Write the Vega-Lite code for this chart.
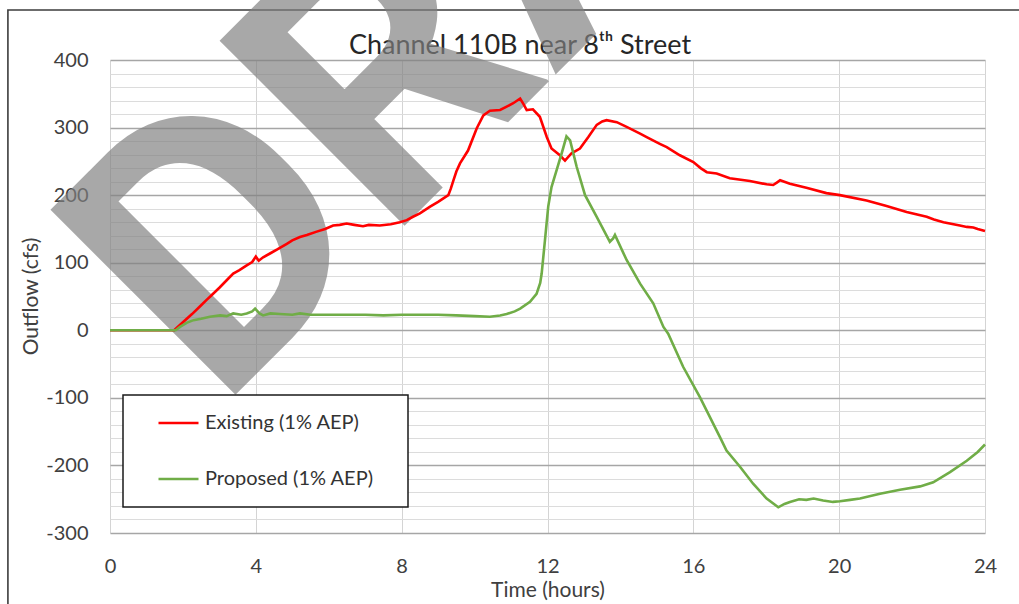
{
  "$schema": "https://vega.github.io/schema/vega-lite/v6.json",
  "width": 875,
  "height": 473,
  "autosize": {"type": "none"},
  "padding": {"left": 110, "top": 60, "right": 34, "bottom": 71},
  "background": "white",
  "config": {
    "view": {"stroke": null},
    "font": "Lato",
    "legend": {"strokeWidth": 1.5}
  },
  "resolve": {"axis": {"x": "independent", "y": "independent"}},
  "layer": [
    {
      "data": {"values": [{}]},
      "mark": {"type": "rect", "filled": false, "stroke": "#3c3c3c", "strokeWidth": 1.6, "clip": false},
      "encoding": {
        "x": {"datum": -2.8, "type": "quantitative", "axis": null, "scale": {"domain": [0, 24], "nice": false, "zero": false}},
        "x2": {"datum": 26.5},
        "y": {"datum": 474, "type": "quantitative", "axis": null, "scale": {"domain": [-300, 400], "nice": false}},
        "y2": {"datum": -450}
      }
    },
    {
      "data": {"values": [{}]},
      "mark": {"type": "text", "text": "DRAFT", "font": "Roboto", "fontWeight": "bold", "fontSize": 368, "angle": -45, "align": "left", "baseline": "alphabetic", "color": "#808080", "opacity": 0.68},
      "encoding": {
        "x": {"datum": 2.99, "type": "quantitative", "scale": {"domain": [0, 24], "nice": false, "zero": false},
          "axis": {"orient": "top", "labels": false, "ticks": false, "domain": false, "grid": false,
            "title": "Channel 110B near 8ᵗʰ Street", "titleFont": "Lato", "titleFontSize": 27, "titleFontWeight": "normal",
            "titleColor": "#262626", "titleX": 409.5, "titleY": -7, "titleAlign": "center", "titleBaseline": "alphabetic"}},
        "y": {"datum": -119.8, "type": "quantitative", "axis": null, "scale": {"domain": [-300, 400], "nice": false}}
      }
    },
    {
      "data": {"values": [
        {"s":"Existing (1% AEP)","t":0,"q":0},{"s":"Existing (1% AEP)","t":1,"q":0},{"s":"Existing (1% AEP)","t":1.76,"q":0},
        {"s":"Existing (1% AEP)","t":2.0,"q":12},{"s":"Existing (1% AEP)","t":2.25,"q":24},{"s":"Existing (1% AEP)","t":2.5,"q":37},
        {"s":"Existing (1% AEP)","t":2.65,"q":45},{"s":"Existing (1% AEP)","t":2.75,"q":50},{"s":"Existing (1% AEP)","t":3.0,"q":63},
        {"s":"Existing (1% AEP)","t":3.2,"q":74},{"s":"Existing (1% AEP)","t":3.38,"q":84},{"s":"Existing (1% AEP)","t":3.55,"q":89},
        {"s":"Existing (1% AEP)","t":3.75,"q":96},{"s":"Existing (1% AEP)","t":3.9,"q":101},{"s":"Existing (1% AEP)","t":4.0,"q":109},
        {"s":"Existing (1% AEP)","t":4.08,"q":103},{"s":"Existing (1% AEP)","t":4.2,"q":108},{"s":"Existing (1% AEP)","t":4.4,"q":114},
        {"s":"Existing (1% AEP)","t":4.6,"q":120},{"s":"Existing (1% AEP)","t":4.85,"q":128},{"s":"Existing (1% AEP)","t":5.0,"q":133},
        {"s":"Existing (1% AEP)","t":5.21,"q":138},{"s":"Existing (1% AEP)","t":5.4,"q":141},{"s":"Existing (1% AEP)","t":5.67,"q":146},
        {"s":"Existing (1% AEP)","t":5.9,"q":150},{"s":"Existing (1% AEP)","t":6.12,"q":155},{"s":"Existing (1% AEP)","t":6.3,"q":156},
        {"s":"Existing (1% AEP)","t":6.49,"q":158},{"s":"Existing (1% AEP)","t":6.7,"q":156},{"s":"Existing (1% AEP)","t":6.94,"q":154},
        {"s":"Existing (1% AEP)","t":7.1,"q":156},{"s":"Existing (1% AEP)","t":7.4,"q":155},{"s":"Existing (1% AEP)","t":7.7,"q":157},
        {"s":"Existing (1% AEP)","t":7.95,"q":160},{"s":"Existing (1% AEP)","t":8.14,"q":163},{"s":"Existing (1% AEP)","t":8.31,"q":168},
        {"s":"Existing (1% AEP)","t":8.5,"q":173},{"s":"Existing (1% AEP)","t":8.78,"q":183},{"s":"Existing (1% AEP)","t":9.0,"q":190},
        {"s":"Existing (1% AEP)","t":9.28,"q":200},{"s":"Existing (1% AEP)","t":9.35,"q":210},{"s":"Existing (1% AEP)","t":9.42,"q":222},
        {"s":"Existing (1% AEP)","t":9.5,"q":235},{"s":"Existing (1% AEP)","t":9.6,"q":247},{"s":"Existing (1% AEP)","t":9.82,"q":266},
        {"s":"Existing (1% AEP)","t":10.06,"q":299},{"s":"Existing (1% AEP)","t":10.24,"q":318},{"s":"Existing (1% AEP)","t":10.42,"q":325},
        {"s":"Existing (1% AEP)","t":10.7,"q":326},{"s":"Existing (1% AEP)","t":10.88,"q":331},{"s":"Existing (1% AEP)","t":11.06,"q":336},
        {"s":"Existing (1% AEP)","t":11.25,"q":343},{"s":"Existing (1% AEP)","t":11.35,"q":334},{"s":"Existing (1% AEP)","t":11.43,"q":326},
        {"s":"Existing (1% AEP)","t":11.6,"q":327},{"s":"Existing (1% AEP)","t":11.79,"q":316},{"s":"Existing (1% AEP)","t":11.98,"q":286},
        {"s":"Existing (1% AEP)","t":12.11,"q":269},{"s":"Existing (1% AEP)","t":12.34,"q":259},{"s":"Existing (1% AEP)","t":12.48,"q":251},
        {"s":"Existing (1% AEP)","t":12.66,"q":262},{"s":"Existing (1% AEP)","t":12.89,"q":269},{"s":"Existing (1% AEP)","t":13.12,"q":286},
        {"s":"Existing (1% AEP)","t":13.35,"q":304},{"s":"Existing (1% AEP)","t":13.5,"q":309},{"s":"Existing (1% AEP)","t":13.62,"q":311},
        {"s":"Existing (1% AEP)","t":13.9,"q":308},{"s":"Existing (1% AEP)","t":14.17,"q":301},{"s":"Existing (1% AEP)","t":14.54,"q":291},
        {"s":"Existing (1% AEP)","t":14.72,"q":286},{"s":"Existing (1% AEP)","t":15.08,"q":276},{"s":"Existing (1% AEP)","t":15.27,"q":271},
        {"s":"Existing (1% AEP)","t":15.63,"q":259},{"s":"Existing (1% AEP)","t":16.0,"q":249},{"s":"Existing (1% AEP)","t":16.2,"q":240},
        {"s":"Existing (1% AEP)","t":16.37,"q":234},{"s":"Existing (1% AEP)","t":16.64,"q":232},{"s":"Existing (1% AEP)","t":17.0,"q":225},
        {"s":"Existing (1% AEP)","t":17.55,"q":221},{"s":"Existing (1% AEP)","t":18.01,"q":216},{"s":"Existing (1% AEP)","t":18.19,"q":215},
        {"s":"Existing (1% AEP)","t":18.3,"q":219},{"s":"Existing (1% AEP)","t":18.38,"q":222},{"s":"Existing (1% AEP)","t":18.65,"q":217},
        {"s":"Existing (1% AEP)","t":19.1,"q":211},{"s":"Existing (1% AEP)","t":19.65,"q":203},{"s":"Existing (1% AEP)","t":20.02,"q":200},
        {"s":"Existing (1% AEP)","t":20.75,"q":192},{"s":"Existing (1% AEP)","t":21.3,"q":184},{"s":"Existing (1% AEP)","t":21.85,"q":175},
        {"s":"Existing (1% AEP)","t":22.4,"q":168},{"s":"Existing (1% AEP)","t":22.6,"q":164},{"s":"Existing (1% AEP)","t":22.86,"q":160},
        {"s":"Existing (1% AEP)","t":23.31,"q":155},{"s":"Existing (1% AEP)","t":23.5,"q":153},{"s":"Existing (1% AEP)","t":23.68,"q":152},
        {"s":"Existing (1% AEP)","t":23.8,"q":150},{"s":"Existing (1% AEP)","t":24.0,"q":147},
        {"s":"Proposed (1% AEP)","t":0,"q":0},{"s":"Proposed (1% AEP)","t":1,"q":0},{"s":"Proposed (1% AEP)","t":1.8,"q":0},
        {"s":"Proposed (1% AEP)","t":1.92,"q":5},{"s":"Proposed (1% AEP)","t":2.1,"q":11},{"s":"Proposed (1% AEP)","t":2.29,"q":15},
        {"s":"Proposed (1% AEP)","t":2.5,"q":17},{"s":"Proposed (1% AEP)","t":2.74,"q":20},{"s":"Proposed (1% AEP)","t":3.02,"q":22},
        {"s":"Proposed (1% AEP)","t":3.2,"q":21},{"s":"Proposed (1% AEP)","t":3.38,"q":25},{"s":"Proposed (1% AEP)","t":3.6,"q":23},
        {"s":"Proposed (1% AEP)","t":3.75,"q":25},{"s":"Proposed (1% AEP)","t":3.9,"q":28},{"s":"Proposed (1% AEP)","t":3.98,"q":32},
        {"s":"Proposed (1% AEP)","t":4.1,"q":25},{"s":"Proposed (1% AEP)","t":4.2,"q":22},{"s":"Proposed (1% AEP)","t":4.4,"q":25},
        {"s":"Proposed (1% AEP)","t":4.66,"q":24},{"s":"Proposed (1% AEP)","t":5.0,"q":23},{"s":"Proposed (1% AEP)","t":5.21,"q":25},
        {"s":"Proposed (1% AEP)","t":5.5,"q":23},{"s":"Proposed (1% AEP)","t":6.0,"q":23},{"s":"Proposed (1% AEP)","t":6.5,"q":23},
        {"s":"Proposed (1% AEP)","t":7.0,"q":23},{"s":"Proposed (1% AEP)","t":7.5,"q":22},{"s":"Proposed (1% AEP)","t":8.0,"q":23},
        {"s":"Proposed (1% AEP)","t":8.5,"q":23},{"s":"Proposed (1% AEP)","t":9.0,"q":23},{"s":"Proposed (1% AEP)","t":9.5,"q":22},
        {"s":"Proposed (1% AEP)","t":10.0,"q":21},{"s":"Proposed (1% AEP)","t":10.42,"q":20},{"s":"Proposed (1% AEP)","t":10.7,"q":22},
        {"s":"Proposed (1% AEP)","t":10.88,"q":24},{"s":"Proposed (1% AEP)","t":11.1,"q":28},{"s":"Proposed (1% AEP)","t":11.25,"q":32},
        {"s":"Proposed (1% AEP)","t":11.52,"q":42},{"s":"Proposed (1% AEP)","t":11.7,"q":54},{"s":"Proposed (1% AEP)","t":11.8,"q":70},
        {"s":"Proposed (1% AEP)","t":11.84,"q":84},{"s":"Proposed (1% AEP)","t":11.93,"q":133},{"s":"Proposed (1% AEP)","t":12.02,"q":183},
        {"s":"Proposed (1% AEP)","t":12.11,"q":212},{"s":"Proposed (1% AEP)","t":12.25,"q":237},{"s":"Proposed (1% AEP)","t":12.39,"q":262},
        {"s":"Proposed (1% AEP)","t":12.52,"q":287},{"s":"Proposed (1% AEP)","t":12.62,"q":281},{"s":"Proposed (1% AEP)","t":12.8,"q":242},
        {"s":"Proposed (1% AEP)","t":13.03,"q":200},{"s":"Proposed (1% AEP)","t":13.35,"q":168},{"s":"Proposed (1% AEP)","t":13.71,"q":131},
        {"s":"Proposed (1% AEP)","t":13.8,"q":136},{"s":"Proposed (1% AEP)","t":13.85,"q":141},{"s":"Proposed (1% AEP)","t":14.17,"q":104},
        {"s":"Proposed (1% AEP)","t":14.54,"q":69},{"s":"Proposed (1% AEP)","t":14.9,"q":40},{"s":"Proposed (1% AEP)","t":15.18,"q":5},
        {"s":"Proposed (1% AEP)","t":15.31,"q":-5},{"s":"Proposed (1% AEP)","t":15.72,"q":-54},{"s":"Proposed (1% AEP)","t":16.18,"q":-99},
        {"s":"Proposed (1% AEP)","t":16.73,"q":-158},{"s":"Proposed (1% AEP)","t":16.91,"q":-178},{"s":"Proposed (1% AEP)","t":17.28,"q":-202},
        {"s":"Proposed (1% AEP)","t":17.64,"q":-227},{"s":"Proposed (1% AEP)","t":18.01,"q":-249},{"s":"Proposed (1% AEP)","t":18.33,"q":-262},
        {"s":"Proposed (1% AEP)","t":18.5,"q":-257},{"s":"Proposed (1% AEP)","t":18.65,"q":-254},{"s":"Proposed (1% AEP)","t":18.9,"q":-250},
        {"s":"Proposed (1% AEP)","t":19.1,"q":-251},{"s":"Proposed (1% AEP)","t":19.3,"q":-249},{"s":"Proposed (1% AEP)","t":19.56,"q":-252},
        {"s":"Proposed (1% AEP)","t":19.83,"q":-254},{"s":"Proposed (1% AEP)","t":20.02,"q":-253},{"s":"Proposed (1% AEP)","t":20.3,"q":-251},
        {"s":"Proposed (1% AEP)","t":20.57,"q":-249},{"s":"Proposed (1% AEP)","t":21.12,"q":-242},{"s":"Proposed (1% AEP)","t":21.67,"q":-236},
        {"s":"Proposed (1% AEP)","t":22.22,"q":-231},{"s":"Proposed (1% AEP)","t":22.58,"q":-225},{"s":"Proposed (1% AEP)","t":23.04,"q":-210},
        {"s":"Proposed (1% AEP)","t":23.5,"q":-193},{"s":"Proposed (1% AEP)","t":23.8,"q":-180},{"s":"Proposed (1% AEP)","t":24.0,"q":-169}
      ]},
      "mark": {"type": "line", "strokeWidth": 2.6},
      "encoding": {
        "x": {"field": "t", "type": "quantitative", "scale": {"domain": [0, 24], "nice": false, "zero": false},
          "axis": {"orient": "bottom", "values": [0, 4, 8, 12, 16, 20, 24], "grid": true, "gridColor": "#d4d4d4", "gridWidth": 1,
            "domain": false, "ticks": false, "tickSize": 0, "labelFont": "Lato", "labelFontSize": 20, "labelColor": "#404040",
            "labelPadding": 39, "labelBaseline": "alphabetic", "labelFlush": false, "labelOverlap": false,
            "title": "Time (hours)", "titleFont": "Lato", "titleFontSize": 21, "titleFontWeight": "normal", "titleColor": "#404040",
            "titleX": 437.5, "titleY": 63.5, "titleBaseline": "alphabetic", "titleAlign": "center"}},
        "y": {"field": "q", "type": "quantitative", "scale": {"domain": [-300, 400], "nice": false},
          "axis": {"orient": "left",
            "values": [-300,-280,-260,-240,-220,-200,-180,-160,-140,-120,-100,-80,-60,-40,-20,0,20,40,60,80,100,120,140,160,180,200,220,240,260,280,300,320,340,360,380,400],
            "grid": true,
            "gridColor": {"condition": {"test": "datum.value % 100 === 0", "value": "#a6a6a6"}, "value": "#dcdcdc"},
            "gridWidth": {"condition": {"test": "datum.value % 100 === 0", "value": 1.4}, "value": 1.1},
            "domain": false, "ticks": false, "tickSize": 0,
            "labelExpr": "datum.value % 100 === 0 ? toString(datum.value) : ''",
            "labelFont": "Lato", "labelFontSize": 20, "labelColor": "#404040", "labelPadding": 22, "labelOverlap": false, "labelFlush": false,
            "title": "Outflow (cfs)", "titleFont": "Lato", "titleFontSize": 21, "titleFontWeight": "normal", "titleColor": "#404040",
            "titleX": -73, "titleY": 236, "titleAngle": -90, "titleBaseline": "alphabetic", "titleAlign": "center"}},
        "color": {"field": "s", "type": "nominal",
          "scale": {"domain": ["Existing (1% AEP)", "Proposed (1% AEP)"], "range": ["#ff0000", "#70ad47"]},
          "legend": {"orient": "none", "legendX": 13, "legendY": 335, "direction": "vertical",
            "title": "\u00a0", "titleOrient": "right", "titlePadding": 26, "titleFontSize": 20, "titleFont": "Lato",
            "symbolType": "stroke", "symbolSize": 1600, "symbolStrokeWidth": 2.5, "symbolOffset": 26, "labelOffset": 5,
            "labelFont": "Lato", "labelFontSize": 20, "labelColor": "#333333", "rowPadding": 16, "padding": 8, "clipHeight": 40,
            "strokeColor": "#1a1a1a", "fillColor": "white", "labelLimit": 400}}
      }
    }
  ]
}
